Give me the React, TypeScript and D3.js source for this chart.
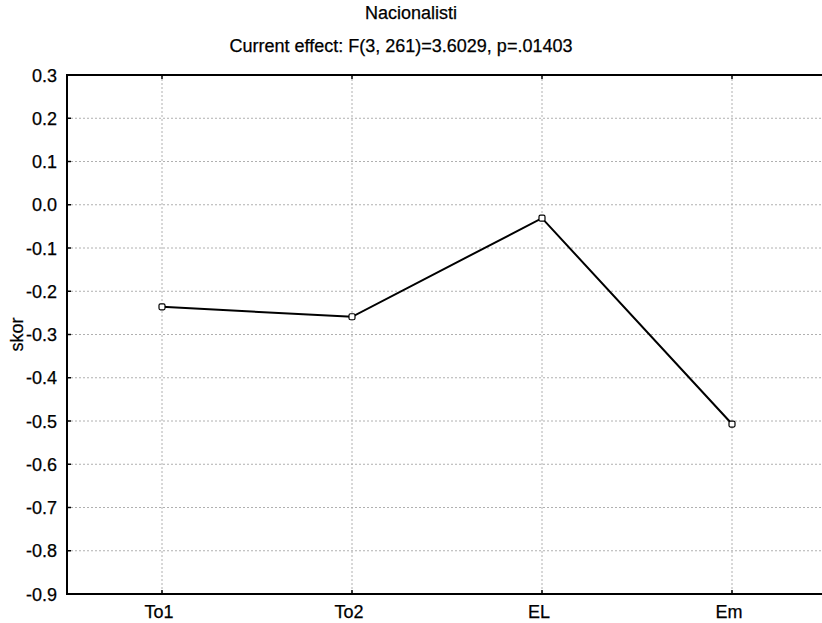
import React from "react";
import * as d3 from "d3";

const categories = ["To1", "To2", "EL", "Em"];
const values = [-0.236, -0.259, -0.031, -0.507];
const yTicks = [0.3, 0.2, 0.1, 0.0, -0.1, -0.2, -0.3, -0.4, -0.5, -0.6, -0.7, -0.8, -0.9];
const title = "Nacionalisti";
const subtitle = "Current effect: F(3, 261)=3.6029, p=.01403";
const yLabel = "skor";

export default function App() {
  const W = 822, H = 623;
  const left = 67, top = 75, bottom = 594, right = 827;
  const x = d3.scalePoint<string>().domain(categories).range([left, right]).padding(0.5);
  const y = d3.scaleLinear().domain([-0.9, 0.3]).range([bottom, top]);
  const line = d3.line<number>().x((_, i) => x(categories[i])!).y(d => y(d));
  const font = "Liberation Sans, Arial, sans-serif";
  const fmt = (t: number) => d3.format(".1f")(t).replace("\u2212", "-");
  const fs = 18;
  const txt = { fontFamily: font, fontSize: fs, stroke: "#000", strokeWidth: 0.25 };
  return (
    <svg width={W} height={H} style={{ position: "absolute", left: 0, top: 0, background: "#fff" }}>
      <rect width={W} height={H} fill="#fff" />
      <text x={411} y={19} textAnchor="middle" {...txt}>{title}</text>
      <text x={401} y={51.5} textAnchor="middle" {...txt}>{subtitle}</text>
      {yTicks.map(t => (
        <g key={t}>
          {t !== 0.3 && t !== -0.9 && (
            <line x1={left} x2={W} y1={y(t)} y2={y(t)} stroke="#b0b0b0" strokeDasharray="2,2" strokeWidth={1} />
          )}
          <line x1={left} x2={left + 4} y1={y(t)} y2={y(t)} stroke="#000" strokeWidth={1.5} />
          <text x={57} y={y(t) + 6.5} textAnchor="end" {...txt}>{fmt(t)}</text>
        </g>
      ))}
      {categories.map(c => (
        <g key={c}>
          <line x1={x(c)} x2={x(c)} y1={top} y2={bottom} stroke="#b0b0b0" strokeDasharray="2,2" strokeWidth={1} />
          <line x1={x(c)} x2={x(c)} y1={top} y2={top + 4} stroke="#000" strokeWidth={1.5} />
          <line x1={x(c)} x2={x(c)} y1={bottom - 4} y2={bottom} stroke="#000" strokeWidth={1.5} />
          <text x={x(c)! - 3} y={bottom + 24} textAnchor="middle" {...txt}>{c}</text>
        </g>
      ))}
      <line x1={left} x2={W} y1={top} y2={top} stroke="#000" strokeWidth={2} />
      <line x1={left} x2={W} y1={bottom} y2={bottom} stroke="#000" strokeWidth={2} />
      <line x1={left} x2={left} y1={top - 1} y2={bottom + 1} stroke="#000" strokeWidth={2} />
      <text transform={`translate(23,${(top + bottom) / 2}) rotate(-90)`} textAnchor="middle" {...txt}>{yLabel}</text>
      <path d={line(values)!} fill="none" stroke="#000" strokeWidth={2} />
      {values.map((v, i) => (
        <rect key={i} x={x(categories[i])! - 3} y={y(v) - 3} width={6} height={6} rx={1.5} fill="#fff" stroke="#000" strokeWidth={1.2} />
      ))}
    </svg>
  );
}
